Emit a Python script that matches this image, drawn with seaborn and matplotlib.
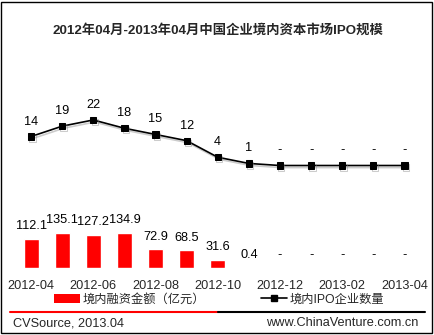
import numpy as np
import pandas as pd
import matplotlib
matplotlib.use("Agg")
import matplotlib.pyplot as plt
import matplotlib.patheffects as pe
from matplotlib.patches import Rectangle, Patch
from matplotlib.lines import Line2D
import seaborn as sns

months = ["2012-04", "2012-05", "2012-06", "2012-07", "2012-08", "2012-09", "2012-10",
          "2012-11", "2012-12", "2013-01", "2013-02", "2013-03", "2013-04"]
amounts = [112.1, 135.1, 127.2, 134.9, 72.9, 68.5, 31.6, 0.4, 0, 0, 0, 0, 0]
counts = [14, 19, 22, 18, 15, 12, 4, 1, 0, 0, 0, 0, 0]
amount_labels = ["112.1", "135.1", "127.2", "134.9", "72.9", "68.5", "31.6", "0.4", "-", "-", "-", "-", "-"]
count_labels = ["14", "19", "22", "18", "15", "12", "4", "1", "-", "-", "-", "-", "-"]
title = "2012年04月-2013年04月中国企业境内资本市场IPO规模"
bar_name = "境内融资金额（亿元）"
line_name = "境内IPO企业数量"
source = "CVSource, 2013.04"
site = "www.ChinaVenture.com.cn"

sns.set_theme(style="white")
plt.rcParams["font.family"] = ["Liberation Sans", "Noto Sans CJK SC", "DejaVu Sans"]

FS = 9.2
W, H = 435, 335
fig = plt.figure(figsize=(W / 100, H / 100), dpi=100)
ax = fig.add_axes([15.5 / W, 0.2, (420 - 15.5) / W, 0.5])
ax.patch.set_alpha(0)

df = pd.DataFrame({"month": months, "amount": amounts, "count": counts})
sns.barplot(data=df, x="month", y="amount", color="#FF0000", saturation=1, width=0.48, ax=ax)
ax.set_xlim(-0.5, 12.5)
ax.set_ylim(0, 644)

ax2 = ax.twinx()
sns.lineplot(x=np.arange(len(months)), y=counts, ax=ax2, color="black", lw=1.2,
             marker="s", markersize=4.5, markeredgecolor="black",
             path_effects=[pe.SimpleLineShadow(offset=(1, -1.5), shadow_color="gray", alpha=0.4), pe.Normal()])
ax2.set_xlim(-0.5, 12.5)
ax2.set_ylim(-49.5, 31.4)

for i, (v, lab) in enumerate(zip(amounts, amount_labels)):
    ax.annotate(lab, (i, v), xytext=(0, 9), textcoords="offset points",
                ha="center", va="center", fontsize=FS, color="black")
for i, (v, lab) in enumerate(zip(counts, count_labels)):
    ax2.annotate(lab, (i, v), xytext=(0, 10.8), textcoords="offset points",
                 ha="center", va="center", fontsize=FS, color="black")

for a in (ax, ax2):
    for s in a.spines.values():
        s.set_visible(False)
    a.set_yticks([])
    a.set_ylabel("")
    a.set_xlabel("")
ax.set_xticks(range(0, len(months), 2))
ax.set_xticklabels(months[::2], fontsize=FS)
ax.tick_params(axis="x", length=0, pad=8.5)
ax2.tick_params(axis="x", length=0)

fig.text(0.5, 1 - 30 / H, title, ha="center", va="center", fontsize=9.6, fontweight="bold")

handles = [Patch(facecolor="#FF0000", edgecolor="none"),
           Line2D([], [], color="black", lw=1.2, marker="s", markersize=4)]
fig.legend(handles, [bar_name, line_name], loc="center", bbox_to_anchor=(219 / W, 1 - 299.5 / H),
           ncol=2, frameon=False, fontsize=8.8, handlelength=2.1, handletextpad=0.2,
           columnspacing=4.6, borderaxespad=0, borderpad=0)

yl = 1 - 312 / H
fig.add_artist(Line2D([10 / W, 218 / W], [yl, yl], color="#FF0000", lw=1.5, transform=fig.transFigure))
fig.add_artist(Line2D([218 / W, 425 / W], [yl, yl], color="black", lw=1.5, transform=fig.transFigure))
fig.text(13 / W, 1 - 323 / H, source, ha="left", va="center", fontsize=FS)
fig.text(418 / W, 1 - 323 / H, site, ha="right", va="center", fontsize=FS)

fig.add_artist(Rectangle((1 / W, 2 / H), 431 / W, 331 / H, transform=fig.transFigure,
                         fill=False, lw=1, ec="black"))

fig.savefig("out.png", dpi=100)
